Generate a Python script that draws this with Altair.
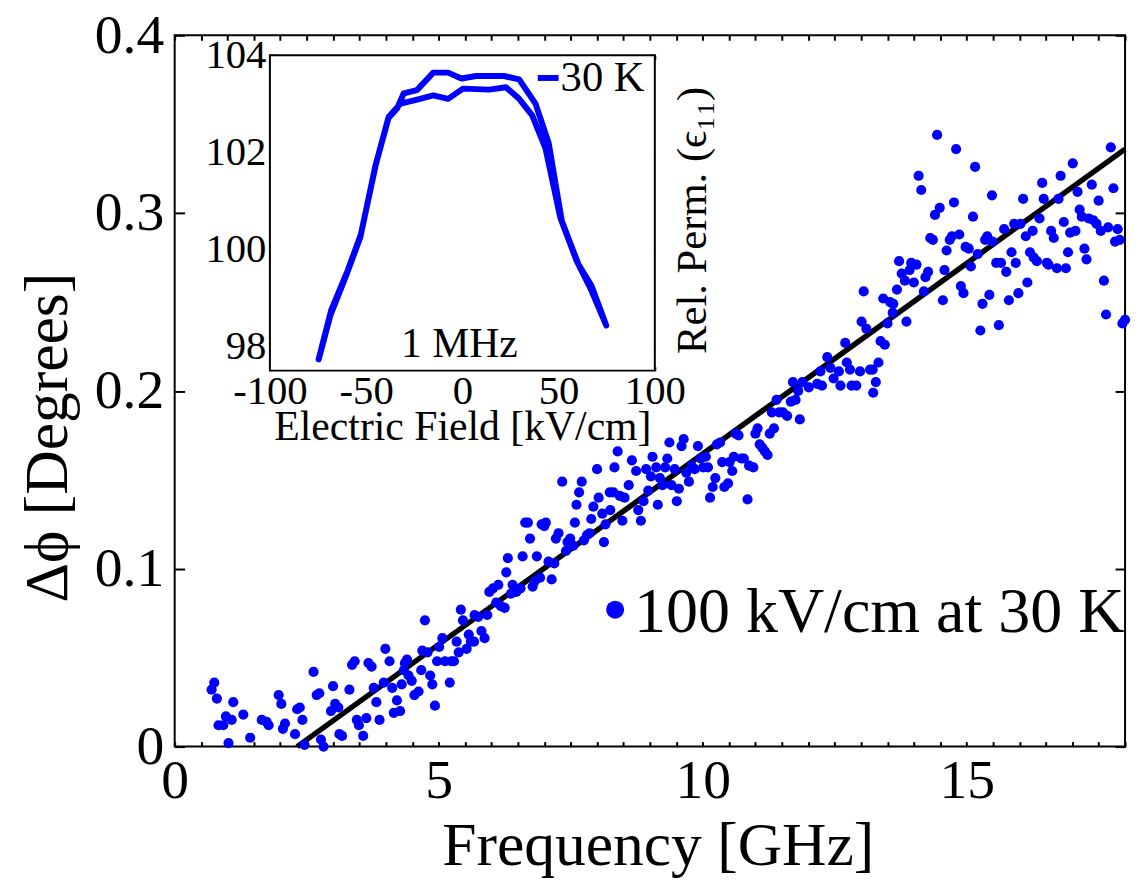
import altair as alt
import pandas as pd

# ---------------- data ----------------
freq = [0.75, 0.70, 0.80, 1.11, 0.97, 1.08, 0.83, 0.92, 1.30, 1.02, 1.43, 1.65, 1.74, 1.78,
        1.97, 2.02, 2.09, 2.05, 2.28, 2.32, 2.37, 2.42, 2.46, 2.63, 2.69, 2.74, 2.77, 2.82,
        3.00, 3.04, 2.96, 3.10, 3.12, 3.17, 3.31, 3.36, 3.41, 3.67, 3.73, 3.45, 3.49, 3.57,
        3.63, 3.77, 3.82, 3.88, 3.99, 3.96,
        4.12, 4.21, 4.15, 4.27, 4.54, 4.62, 4.93,
        4.07, 4.30, 4.36, 4.40, 4.34, 4.43, 4.49, 4.67, 4.84, 4.69, 4.79, 4.88, 4.74, 4.97,
        5.01, 5.07, 5.12, 5.21, 5.24, 5.29, 5.34, 5.38, 5.42, 5.46, 5.53, 5.57, 5.61, 5.67,
        5.68, 5.75, 5.81, 5.87, 5.92, 5.96, 6.03, 6.13, 6.09, 6.18, 6.25, 6.28, 6.31, 6.40,
        6.37, 6.47, 6.55, 6.59, 6.64, 6.69, 6.73, 6.78, 6.82, 6.86, 6.92, 6.95, 7.03, 7.00,
        7.08, 7.14, 7.19, 7.22, 7.27, 7.34, 7.41, 7.44, 7.49, 7.55, 7.58, 7.61, 7.66, 7.71,
        7.75, 7.81, 7.86, 7.89, 7.93,
        8.00, 8.03, 8.10, 8.13, 8.16, 8.24, 8.31, 8.25, 8.33, 8.39, 8.43, 8.48, 8.52, 8.60,
        8.66, 8.74, 8.78, 8.83, 8.88, 8.93, 8.97, 9.02, 9.05, 9.12, 9.15, 9.19, 9.24, 9.29,
        9.33, 9.37, 9.41, 9.47, 9.51, 9.55, 9.60, 9.64, 9.69, 9.74, 9.79, 9.85, 9.91, 9.96,
        10.01, 10.06, 10.10, 10.14, 10.19, 10.24, 10.27, 10.33, 10.37, 10.41, 10.48, 10.51,
        10.56, 10.59, 10.63, 10.68, 10.73, 10.78, 10.85, 10.88, 10.96, 11.00, 11.04, 11.08,
        11.13, 11.18, 11.23, 11.27, 11.35, 11.31, 11.40, 11.45, 11.52, 11.60, 11.67, 11.71,
        11.76, 11.81, 11.84, 11.89,
        12.01, 12.17, 12.23, 12.26, 12.36, 12.42, 12.48, 12.58, 12.61, 12.70, 12.73, 12.79,
        12.82, 12.91, 12.98, 13.01, 13.05, 13.10, 13.17, 13.22, 13.28, 13.23, 13.33, 13.37,
        13.45, 13.42, 13.50, 13.55, 13.61, 13.60, 13.68, 13.72, 13.77, 13.83, 13.86, 13.92,
        13.95, 14.00, 14.05, 14.09, 14.14, 14.19, 14.22, 14.27, 14.31, 14.36, 14.40, 14.44,
        14.49, 14.55, 14.58, 14.62, 14.68, 14.72, 14.76, 14.80, 14.86, 14.89, 14.94, 14.98,
        15.04, 15.08, 15.12, 15.16, 15.21, 15.26, 15.30, 15.35, 15.39, 15.43, 15.48, 15.49,
        15.61, 15.71, 15.80, 15.56, 15.65, 15.75, 15.85, 15.93, 15.90, 15.98, 16.02, 16.07,
        16.12, 16.15, 16.20, 16.25, 16.27, 16.33, 16.38, 16.43, 16.46, 16.52, 16.55, 16.60,
        16.65, 16.71, 16.74, 16.78, 16.84, 16.88, 16.92, 16.96, 17.01, 17.06, 17.10, 17.14,
        17.18, 17.23, 17.27, 17.31, 17.37, 17.40, 17.46, 17.50, 17.54, 17.60, 17.64, 17.68,
        17.73, 17.78, 17.81, 17.86, 17.90, 17.95, 18.00]
dphi = [0.036, 0.032, 0.027, 0.025, 0.017, 0.015, 0.012, 0.012, 0.018, 0.002, 0.005, 0.015, 0.014, 0.012,
        0.029, 0.024, 0.013, 0.010, 0.007, 0.021, 0.022, 0.015, 0.001, 0.042, 0.029, 0.030, 0.004, 0.000,
        0.034, 0.024, 0.020, 0.022, 0.007, 0.006, 0.032, 0.046, 0.048, 0.047, 0.045, 0.015, 0.012, 0.006,
        0.016, 0.033, 0.025, 0.015, 0.055, 0.036,
        0.033, 0.026, 0.019, 0.020, 0.029, 0.031, 0.023,
        0.048, 0.035, 0.047, 0.049, 0.043, 0.040, 0.037, 0.043, 0.040, 0.054, 0.053, 0.035, 0.071, 0.048,
        0.056, 0.061, 0.048, 0.036, 0.048, 0.048, 0.059, 0.053, 0.077, 0.071, 0.055, 0.063, 0.059, 0.059,
        0.074, 0.073, 0.065, 0.061, 0.074, 0.087, 0.089, 0.091, 0.081, 0.079, 0.078, 0.098, 0.106, 0.091,
        0.086, 0.087, 0.089, 0.107, 0.126, 0.126, 0.117, 0.090, 0.093, 0.107, 0.095, 0.125, 0.126, 0.124,
        0.104, 0.094, 0.103, 0.117, 0.120, 0.149, 0.110, 0.115, 0.117, 0.113, 0.126, 0.136, 0.143, 0.149,
        0.116, 0.119, 0.120, 0.128, 0.135,
        0.156, 0.140, 0.131, 0.115, 0.125, 0.143, 0.143, 0.133, 0.157, 0.166, 0.141, 0.127, 0.140, 0.147,
        0.161, 0.155, 0.133, 0.127, 0.138, 0.156, 0.144, 0.152, 0.163, 0.157, 0.136, 0.151, 0.147, 0.157,
        0.162, 0.171, 0.147, 0.156, 0.138, 0.145, 0.169, 0.173, 0.154, 0.149, 0.158, 0.156, 0.169, 0.162,
        0.157, 0.163, 0.157, 0.140, 0.146, 0.151, 0.170, 0.171, 0.160, 0.146, 0.148, 0.160,
        0.155, 0.163, 0.176, 0.175, 0.162, 0.162, 0.139, 0.158, 0.157, 0.176, 0.179, 0.170,
        0.168, 0.166, 0.164, 0.176, 0.179, 0.188, 0.195, 0.188, 0.188, 0.186, 0.194, 0.205,
        0.195, 0.200, 0.184, 0.205,
        0.202, 0.204, 0.211, 0.203, 0.219, 0.213, 0.207, 0.211, 0.203, 0.227, 0.216, 0.212,
        0.203, 0.203, 0.211, 0.239, 0.256, 0.235, 0.212, 0.212, 0.205, 0.199, 0.216, 0.228,
        0.226, 0.252, 0.238, 0.250, 0.249, 0.244, 0.257, 0.273, 0.266, 0.262, 0.239, 0.268,
        0.272, 0.261, 0.271, 0.321, 0.313, 0.256, 0.264, 0.267, 0.286, 0.285, 0.299, 0.344,
        0.303, 0.251, 0.268, 0.279, 0.285, 0.287, 0.306, 0.336, 0.288, 0.259, 0.255, 0.281,
        0.280, 0.270, 0.298, 0.326, 0.277, 0.234, 0.249, 0.285, 0.287, 0.254, 0.310, 0.284,
        0.237, 0.291, 0.251, 0.272, 0.272, 0.267, 0.278, 0.272, 0.294, 0.255, 0.294, 0.308,
        0.287, 0.261, 0.278, 0.290, 0.275, 0.273, 0.297, 0.317, 0.308, 0.272, 0.271, 0.290,
        0.286, 0.269, 0.308, 0.321, 0.295, 0.269, 0.278, 0.289, 0.328, 0.290, 0.312, 0.302,
        0.298, 0.280, 0.274, 0.297, 0.316, 0.296, 0.294, 0.307, 0.290, 0.262, 0.243, 0.292,
        0.337, 0.314, 0.284, 0.291, 0.285, 0.238, 0.240]

fit_freq = [2.32, 18.0]
fit_dphi = [0.0, 0.336]

# inset: hysteresis loop, 1 MHz, 30 K
field = [-74.7, -68.2, -59.6, -52.7, -45.0, -38.2, -32.2, -24.0, -15.1, -7.4, 0.3, 14.0,
         22.6, 29.5, 36.3, 43.2, 50.9, 59.4, 66.5, 74.8,
         67.1, 60.3, 51.7, 44.9, 38.0, 29.5, 21.7, 7.2, -0.5, -7.4, -15.1, -23.6, -30.5,
         -33.9, -38.5, -45.3, -53.0, -60.0, -68.5, -74.5]
perm = [97.73, 98.74, 99.56, 100.31, 101.74, 102.73, 103.00, 103.08, 103.17, 103.10, 103.31, 103.29,
        103.34, 103.10, 102.76, 102.08, 100.65, 99.76, 99.20, 98.43,
        99.25, 99.69, 100.58, 102.18, 103.00, 103.50, 103.57, 103.57, 103.52, 103.64, 103.64, 103.28, 103.21,
        102.90, 102.70, 101.70, 100.25, 99.50, 98.65, 97.75]

main_x_ticks = [0, 0.5, 1, 1.5, 2, 2.5, 3, 3.5, 4, 4.5, 5, 5.5, 6, 6.5, 7, 7.5, 8, 8.5, 9,
                9.5, 10, 10.5, 11, 11.5, 12, 12.5, 13, 13.5, 14, 14.5, 15, 15.5, 16, 16.5,
                17, 17.5, 18]
main_y_ticks = [0, 0.1, 0.2, 0.3, 0.4]
inset_x_ticks = [-100, -95, -90, -85, -80, -75, -70, -65, -60, -55, -50, -45, -40, -35, -30,
                 -25, -20, -15, -10, -5, 0, 5, 10, 15, 20, 25, 30, 35, 40, 45, 50, 55, 60,
                 65, 70, 75, 80, 85, 90, 95, 100]
inset_x_labels = [-100, -50, 0, 50, 100]
inset_y_ticks = [98, 100, 102, 104]

# ---------------- layout constants ----------------
W, H = 958, 717
IN_L, IN_R, IN_T, IN_B = 96, 484, 20, 338
FONT = "Liberation Serif"
BLUE = "#0000ff"

scatter_df = pd.DataFrame({"f": freq, "d": dphi})
fit_df = pd.DataFrame({"f": fit_freq, "d": fit_dphi})
loop_df = pd.DataFrame({"e": field, "p": perm, "i": list(range(len(field)))})
frame_df = pd.DataFrame({"x0": [inset_x_labels[0]], "x1": [inset_x_labels[-1]],
                         "y0": [97.5], "y1": [104.0]})

xs_main = alt.Scale(domain=[0, 18], nice=False, zero=False)
ys_main = alt.Scale(domain=[0, 0.4], nice=False, zero=False)
xs_in = alt.Scale(domain=[-100, 100], range=[IN_L, IN_R], nice=False, zero=False)
ys_in = alt.Scale(domain=[97.5, 104], range=[IN_B, IN_T], nice=False, zero=False)

# ---------------- main plot ----------------
fit = alt.Chart(fit_df).mark_line(color="black", strokeWidth=5.5).encode(
    x=alt.X("f:Q", scale=xs_main, axis=alt.Axis(
        orient="top", offset=-5, tickSize=5, values=main_x_ticks, labels=False,
        domain=False, grid=False, title=None)),
    y=alt.Y("d:Q", scale=ys_main, axis=alt.Axis(
        orient="right", offset=-10, tickSize=10, values=main_y_ticks, labels=False,
        domain=False, grid=False, title=None)),
)

scatter = alt.Chart(scatter_df).mark_circle(size=105, color=BLUE, opacity=1).encode(
    x=alt.X("f:Q", scale=xs_main, axis=alt.Axis(
        orient="bottom", offset=-5, tickSize=5, values=main_x_ticks,
        labelExpr="datum.value % 5 === 0 ? '' + datum.value : ''",
        domain=False, grid=False, labelPadding=7, labelFlush=False, labelOverlap=False,
        title="Frequency [GHz]", titleFontSize=62, titleX=487, titleY=124,
        titleBaseline="alphabetic", titleAlign="center")),
    y=alt.Y("d:Q", scale=ys_main, axis=alt.Axis(
        orient="left", offset=-10, tickSize=10, values=main_y_ticks,
        labelExpr="datum.value === 0 ? '0' : format(datum.value, '.1f')",
        domain=False, grid=False, labelPadding=11, labelOverlap=False,
        title="Δϕ [Degrees]", titleFontSize=62, titleX=-138, titleY=405, titleAngle=270,
        titleBaseline="middle", titleAlign="center")),
)

legend_dot = alt.Chart(pd.DataFrame({"k": ["100 kV/cm at 30 K"]})).mark_circle(
    size=330, color=BLUE, opacity=1).encode(x=alt.value(444), y=alt.value(579))
legend_txt = alt.Chart(pd.DataFrame({"k": ["100 kV/cm at 30 K"]})).mark_text(
    font=FONT, fontSize=64.5, align="left", baseline="alphabetic", color="black").encode(
    x=alt.value(463), y=alt.value(601), text="k:N")

# ---------------- inset ----------------
tick_cond = {"condition": {"test": "datum.value % 50 === 0", "value": 4}, "value": 2}

inset_frame = alt.Chart(frame_df).mark_rect(fill="white", stroke="black", strokeWidth=2).encode(
    x=alt.X("x0:Q", scale=xs_in, axis=alt.Axis(
        orient="top", offset=-IN_B, tickSize=tick_cond, values=inset_x_ticks,
        labels=False, domain=False, grid=False, title=None)),
    x2="x1:Q",
    y=alt.Y("y0:Q", scale=ys_in, axis=alt.Axis(
        orient="left", offset=-IN_R, tickSize=5, values=inset_y_ticks,
        labels=False, domain=False, grid=False, title=None)),
    y2="y1:Q",
)

inset_line = alt.Chart(loop_df).mark_line(color=BLUE, strokeWidth=6, strokeJoin="round",
                                          strokeCap="round").encode(
    x=alt.X("e:Q", scale=xs_in, axis=alt.Axis(
        orient="bottom", offset=IN_B - H, ticks=False, tickSize=0, values=inset_x_labels,
        labelExpr="datum.value < 0 ? '-' + abs(datum.value) : '' + datum.value",
        labelFontSize=41, labelPadding=1, labelFlush=False, labelOverlap=False,
        domain=False, grid=False,
        title="Electric Field [kV/cm]", titleFontSize=42, titleY=69,
        titleBaseline="alphabetic")),
    y=alt.Y("p:Q", scale=ys_in, axis=alt.Axis(
        orient="left", offset=-IN_L, ticks=False, tickSize=0, values=inset_y_ticks,
        labelFontSize=41, labelPadding=4, labelOverlap=False, domain=False, grid=False,
        title=None)),
    order="i:Q",
)

inset_ticks2 = alt.Chart(loop_df).mark_line(strokeOpacity=0).encode(
    x=alt.X("e:Q", scale=xs_in, axis=alt.Axis(
        orient="bottom", offset=IN_T - H, tickSize=tick_cond, values=inset_x_ticks,
        labels=False, domain=False, grid=False, title=None)),
    y=alt.Y("p:Q", scale=ys_in, axis=alt.Axis(
        orient="right", offset=IN_L - W, tickSize=5, values=inset_y_ticks,
        labels=False, domain=False, grid=False, title=None)),
    order="i:Q",
)

inset_title = alt.Chart(loop_df).mark_line(strokeOpacity=0).encode(
    x=alt.X("e:Q", scale=xs_in, axis=None),
    y=alt.Y("p:Q", scale=ys_in, axis=alt.Axis(
        orient="right", offset=IN_R - W, ticks=False, tickSize=0, labels=False,
        domain=False, grid=False, title="Rel. Perm. (ϵ₁₁)", titleFontSize=43,
        titleX=38, titleY=186, titleAngle=270, titleBaseline="middle",
        titleAlign="center")),
    order="i:Q",
)

mhz_txt = alt.Chart(pd.DataFrame({"k": ["1 MHz"]})).mark_text(
    font=FONT, fontSize=42, align="center", baseline="alphabetic", color="black").encode(
    x=alt.value(287), y=alt.value(324), text="k:N")

leg30_line = alt.Chart(pd.DataFrame({"k": ["30 K"]})).mark_rule(
    color=BLUE, strokeWidth=6).encode(x=alt.value(366), x2=alt.value(387), y=alt.value(43))
leg30_txt = alt.Chart(pd.DataFrame({"k": ["30 K"]})).mark_text(
    font=FONT, fontSize=43, align="left", baseline="alphabetic", color="black").encode(
    x=alt.value(389), y=alt.value(56), text="k:N")

chart = alt.layer(
    fit, scatter, legend_dot, legend_txt,
    inset_frame, inset_line, inset_ticks2, inset_title,
    mhz_txt, leg30_line, leg30_txt,
).resolve_scale(
    x="independent", y="independent"
).properties(
    width=W, height=H,
    autosize=alt.AutoSizeParams(type="none"),
    padding={"left": 168, "top": 24, "right": 6, "bottom": 139},
).configure_view(
    stroke="black", strokeWidth=2
).configure_axis(
    labelFont=FONT, titleFont=FONT, labelColor="black", titleColor="black",
    tickColor="black", tickWidth=2, labelFontSize=56, titleFontSize=61,
    titleFontWeight="normal", labelFontWeight="normal",
)

chart.save("out.html", embed_options={"renderer": "svg", "actions": False})
